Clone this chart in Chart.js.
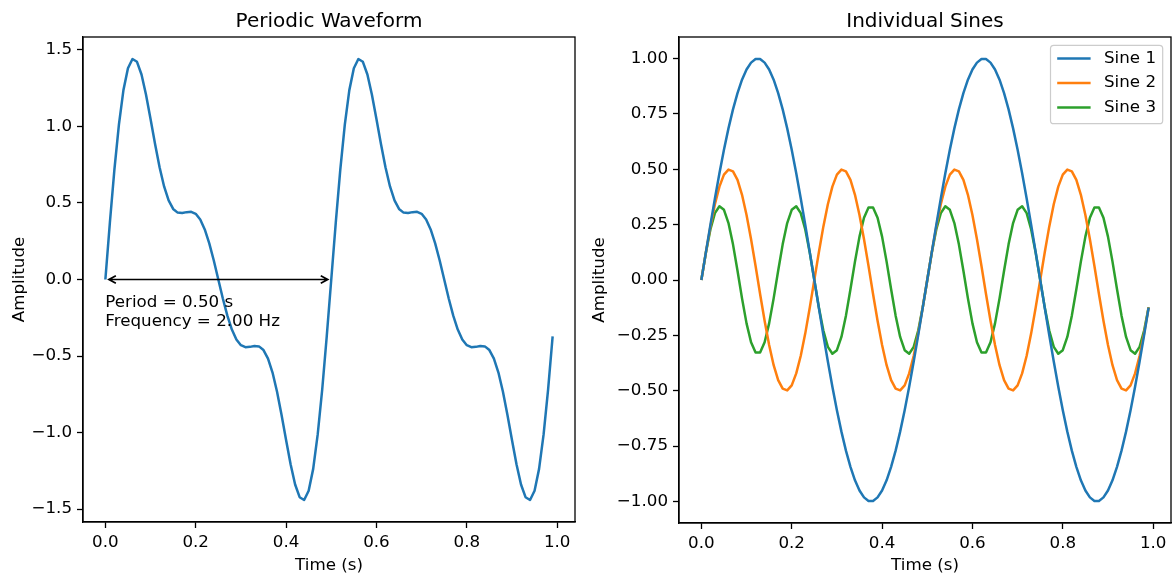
<!DOCTYPE html>
<html>
<head>
<meta charset="utf-8">
<title>Periodic Waveform</title>
<script src="https://cdn.jsdelivr.net/npm/chart.js@4.4.0/dist/chart.umd.min.js"></script>
<style>
  body { margin: 0; background: #fff; }
  #wrap { position: relative; width: 1172px; height: 576px; }
  canvas { position: absolute; top: 0; }
  #waveChart { left: 0; }
  #sineChart { left: 586px; }
</style>
</head>
<body>
<div id="wrap">
  <canvas id="waveChart" width="586" height="576"></canvas>
  <canvas id="sineChart" width="586" height="576"></canvas>
</div>
<script>
// Sample times (s)
const timeValues = [
  0.00, 0.01, 0.02, 0.03, 0.04, 0.05, 0.06, 0.07, 0.08, 0.09,
  0.10, 0.11, 0.12, 0.13, 0.14, 0.15, 0.16, 0.17, 0.18, 0.19,
  0.20, 0.21, 0.22, 0.23, 0.24, 0.25, 0.26, 0.27, 0.28, 0.29,
  0.30, 0.31, 0.32, 0.33, 0.34, 0.35, 0.36, 0.37, 0.38, 0.39,
  0.40, 0.41, 0.42, 0.43, 0.44, 0.45, 0.46, 0.47, 0.48, 0.49,
  0.50, 0.51, 0.52, 0.53, 0.54, 0.55, 0.56, 0.57, 0.58, 0.59,
  0.60, 0.61, 0.62, 0.63, 0.64, 0.65, 0.66, 0.67, 0.68, 0.69,
  0.70, 0.71, 0.72, 0.73, 0.74, 0.75, 0.76, 0.77, 0.78, 0.79,
  0.80, 0.81, 0.82, 0.83, 0.84, 0.85, 0.86, 0.87, 0.88, 0.89,
  0.90, 0.91, 0.92, 0.93, 0.94, 0.95, 0.96, 0.97, 0.98, 0.99
];

// Combined waveform
const waveform = [
  0, 0.372, 0.718, 1.012, 1.237, 1.380, 1.440, 1.422, 1.339, 1.207,
  1.049, 0.885, 0.733, 0.608, 0.517, 0.461, 0.437, 0.434, 0.440, 0.442,
  0.429, 0.392, 0.327, 0.236, 0.124, 0, -0.124, -0.236, -0.327, -0.392,
  -0.429, -0.442, -0.440, -0.434, -0.437, -0.461, -0.517, -0.608, -0.733, -0.885,
  -1.049, -1.207, -1.339, -1.422, -1.440, -1.380, -1.237, -1.012, -0.718, -0.372,
  0, 0.372, 0.718, 1.012, 1.237, 1.380, 1.440, 1.422, 1.339, 1.207,
  1.049, 0.885, 0.733, 0.608, 0.517, 0.461, 0.437, 0.434, 0.440, 0.442,
  0.429, 0.392, 0.327, 0.236, 0.124, 0, -0.124, -0.236, -0.327, -0.392,
  -0.429, -0.442, -0.440, -0.434, -0.437, -0.461, -0.517, -0.608, -0.733, -0.885,
  -1.049, -1.207, -1.339, -1.422, -1.440, -1.380, -1.237, -1.012, -0.718, -0.372
];

// Individual components
const sine1 = [
  0, 0.125, 0.249, 0.368, 0.482, 0.588, 0.685, 0.771, 0.844, 0.905,
  0.951, 0.982, 0.998, 0.998, 0.982, 0.951, 0.905, 0.844, 0.771, 0.685,
  0.588, 0.482, 0.368, 0.249, 0.125, 0, -0.125, -0.249, -0.368, -0.482,
  -0.588, -0.685, -0.771, -0.844, -0.905, -0.951, -0.982, -0.998, -0.998, -0.982,
  -0.951, -0.905, -0.844, -0.771, -0.685, -0.588, -0.482, -0.368, -0.249, -0.125,
  0, 0.125, 0.249, 0.368, 0.482, 0.588, 0.685, 0.771, 0.844, 0.905,
  0.951, 0.982, 0.998, 0.998, 0.982, 0.951, 0.905, 0.844, 0.771, 0.685,
  0.588, 0.482, 0.368, 0.249, 0.125, 0, -0.125, -0.249, -0.368, -0.482,
  -0.588, -0.685, -0.771, -0.844, -0.905, -0.951, -0.982, -0.998, -0.998, -0.982,
  -0.951, -0.905, -0.844, -0.771, -0.685, -0.588, -0.482, -0.368, -0.249, -0.125
];

const sine2 = [
  0, 0.124, 0.241, 0.342, 0.422, 0.476, 0.499, 0.491, 0.452, 0.385,
  0.294, 0.184, 0.063, -0.063, -0.184, -0.294, -0.385, -0.452, -0.491, -0.499,
  -0.476, -0.422, -0.342, -0.241, -0.124, 0, 0.124, 0.241, 0.342, 0.422,
  0.476, 0.499, 0.491, 0.452, 0.385, 0.294, 0.184, 0.063, -0.063, -0.184,
  -0.294, -0.385, -0.452, -0.491, -0.499, -0.476, -0.422, -0.342, -0.241, -0.124,
  0, 0.124, 0.241, 0.342, 0.422, 0.476, 0.499, 0.491, 0.452, 0.385,
  0.294, 0.184, 0.063, -0.063, -0.184, -0.294, -0.385, -0.452, -0.491, -0.499,
  -0.476, -0.422, -0.342, -0.241, -0.124, 0, 0.124, 0.241, 0.342, 0.422,
  0.476, 0.499, 0.491, 0.452, 0.385, 0.294, 0.184, 0.063, -0.063, -0.184,
  -0.294, -0.385, -0.452, -0.491, -0.499, -0.476, -0.422, -0.342, -0.241, -0.124
];

const sine3 = [
  0, 0.123, 0.228, 0.302, 0.333, 0.317, 0.257, 0.161, 0.042, -0.083,
  -0.196, -0.281, -0.327, -0.327, -0.281, -0.196, -0.083, 0.042, 0.161, 0.257,
  0.317, 0.333, 0.302, 0.228, 0.123, 0, -0.123, -0.228, -0.302, -0.333,
  -0.317, -0.257, -0.161, -0.042, 0.083, 0.196, 0.281, 0.327, 0.327, 0.281,
  0.196, 0.083, -0.042, -0.161, -0.257, -0.317, -0.333, -0.302, -0.228, -0.123,
  0, 0.123, 0.228, 0.302, 0.333, 0.317, 0.257, 0.161, 0.042, -0.083,
  -0.196, -0.281, -0.327, -0.327, -0.281, -0.196, -0.083, 0.042, 0.161, 0.257,
  0.317, 0.333, 0.302, 0.228, 0.123, 0, -0.123, -0.228, -0.302, -0.333,
  -0.317, -0.257, -0.161, -0.042, 0.083, 0.196, 0.281, 0.327, 0.327, 0.281,
  0.196, 0.083, -0.042, -0.161, -0.257, -0.317, -0.333, -0.302, -0.228, -0.123
];

const sineLabels = ['Sine 1', 'Sine 2', 'Sine 3'];
const sineColors = ['#1f77b4', '#ff7f0e', '#2ca02c'];

// Tick positions
const timeTicks = [0, 0.2, 0.4, 0.6, 0.8, 1.0];
const waveTicks = [-1.5, -1.0, -0.5, 0, 0.5, 1.0, 1.5];
const sineTicks = [-1, -0.75, -0.5, -0.25, 0, 0.25, 0.5, 0.75, 1];

const period = 0.5;      // s
const frequency = 2.0;   // Hz

const FONT = "'DejaVu Sans', sans-serif";

function fmt(v, digits) {
  return Number(v).toFixed(digits).replace('-', '\u2212');
}

function toPoints(values) {
  return timeValues.map((t, i) => ({ x: t, y: values[i] }));
}

function makeAxis(opts) {
  return {
    type: 'linear',
    min: opts.min,
    max: opts.max,
    afterBuildTicks: function(scale) {
      scale.ticks = opts.ticks.map(v => ({ value: v }));
    },
    afterFit: function(scale) {
      if (opts.horizontal) scale.height = opts.size;
      else scale.width = opts.size;
    },
    grid: { display: true, drawOnChartArea: false, drawTicks: true, tickLength: 6, tickWidth: 1.3, color: '#000' },
    border: { display: true, color: '#000', width: 1.3 },
    ticks: {
      color: '#000',
      font: { family: FONT, size: 16.7 },
      padding: 5,
      maxRotation: 0,
      autoSkip: false,
      callback: v => fmt(v, opts.digits)
    },
    title: {
      display: true,
      text: opts.title,
      color: '#000',
      font: { family: FONT, size: 16.7 },
      padding: { top: opts.titlePad, bottom: 0 }
    }
  };
}

// Axes box, panel title
const framePlugin = {
  id: 'frame',
  afterDraw(chart, args, options) {
    const { ctx, chartArea: a } = chart;
    ctx.save();
    ctx.strokeStyle = '#000';
    ctx.lineWidth = 1.3;
    ctx.strokeRect(a.left, a.top, a.right - a.left, a.bottom - a.top);
    ctx.fillStyle = '#000';
    ctx.font = '20px ' + FONT;
    ctx.textAlign = 'center';
    ctx.textBaseline = 'alphabetic';
    ctx.fillText(options.text, (a.left + a.right) / 2, 26.5);
    ctx.restore();
  }
};

// Double arrow over one period, with period / frequency text
const periodPlugin = {
  id: 'periodNote',
  afterDatasetsDraw(chart) {
    const { ctx } = chart;
    const xs = chart.scales.x, ys = chart.scales.y;
    const y = ys.getPixelForValue(0);
    const x0 = xs.getPixelForValue(0) + 3.5;
    const x1 = xs.getPixelForValue(period) - 3.5;
    const hl = 7, hw = 3.8;
    ctx.save();
    ctx.strokeStyle = '#000';
    ctx.lineWidth = 1.7;
    ctx.beginPath();
    ctx.moveTo(x0, y);
    ctx.lineTo(x1, y);
    ctx.moveTo(x0 + hl, y - hw);
    ctx.lineTo(x0, y);
    ctx.lineTo(x0 + hl, y + hw);
    ctx.moveTo(x1 - hl, y - hw);
    ctx.lineTo(x1, y);
    ctx.lineTo(x1 - hl, y + hw);
    ctx.stroke();

    ctx.fillStyle = '#000';
    ctx.font = '16.7px ' + FONT;
    ctx.textAlign = 'left';
    ctx.textBaseline = 'alphabetic';
    const tx = xs.getPixelForValue(0);
    const ty = ys.getPixelForValue(-0.18);
    ctx.fillText('Period = ' + period.toFixed(2) + ' s', tx, ty);
    ctx.fillText('Frequency = ' + frequency.toFixed(2) + ' Hz', tx, ty + 18.5);
    ctx.restore();
  }
};

// Legend box in the upper right corner of the plot area
const cornerLegend = {
  id: 'cornerLegend',
  afterDatasetsDraw(chart) {
    const { ctx, chartArea: a } = chart;
    const sets = chart.data.datasets;
    ctx.save();
    ctx.font = '16.7px ' + FONT;
    const textW = Math.max(...sets.map(d => ctx.measureText(d.label).width));
    const pad = 6.7, handle = 33.4, gap = 13.4, rowH = 24.4;
    const w = pad + handle + gap + textW + pad;
    const h = rowH * sets.length + 5.2;
    const right = a.right - 8.3, top = a.top + 8.3;
    const left = right - w;

    ctx.beginPath();
    ctx.roundRect(left, top, w, h, 3.3);
    ctx.fillStyle = 'rgba(255,255,255,0.8)';
    ctx.fill();
    ctx.strokeStyle = '#cccccc';
    ctx.lineWidth = 1.2;
    ctx.stroke();

    sets.forEach((d, i) => {
      const cy = top + 13.3 + i * rowH;
      ctx.strokeStyle = d.borderColor;
      ctx.lineWidth = 2.5;
      ctx.beginPath();
      ctx.moveTo(left + pad, cy);
      ctx.lineTo(left + pad + handle, cy);
      ctx.stroke();
      ctx.fillStyle = '#000';
      ctx.textAlign = 'left';
      ctx.textBaseline = 'middle';
      ctx.fillText(d.label, left + pad + handle + gap, cy);
    });
    ctx.restore();
  }
};

function lineSet(label, values, color) {
  return {
    label: label,
    data: toPoints(values),
    borderColor: color,
    backgroundColor: color,
    borderWidth: 2.5,
    pointRadius: 0,
    tension: 0,
    fill: false,
    borderJoinStyle: 'round'
  };
}

const baseOptions = {
  responsive: false,
  animation: false,
  events: [],
  plugins: { legend: { display: false }, tooltip: { enabled: false } }
};

new Chart(document.getElementById('waveChart'), {
  type: 'line',
  data: { datasets: [lineSet('Waveform', waveform, '#1f77b4')] },
  options: Object.assign({}, baseOptions, {
    layout: { padding: { left: 0, top: 37, right: 11, bottom: 0 } },
    plugins: Object.assign({}, baseOptions.plugins, { frame: { text: 'Periodic Waveform' } }),
    scales: {
      x: makeAxis({ min: -0.0495, max: 1.0395, ticks: timeTicks, digits: 1, title: 'Time (s)', horizontal: true, size: 54, titlePad: 3 }),
      y: makeAxis({ min: -1.584, max: 1.584, ticks: waveTicks, digits: 1, title: 'Amplitude', horizontal: false, size: 83, titlePad: 9.4 })
    }
  }),
  plugins: [framePlugin, periodPlugin]
});

new Chart(document.getElementById('sineChart'), {
  type: 'line',
  data: {
    datasets: [
      lineSet(sineLabels[0], sine1, sineColors[0]),
      lineSet(sineLabels[1], sine2, sineColors[1]),
      lineSet(sineLabels[2], sine3, sineColors[2])
    ]
  },
  options: Object.assign({}, baseOptions, {
    layout: { padding: { left: 0, top: 37, right: 1, bottom: 0 } },
    plugins: Object.assign({}, baseOptions.plugins, { frame: { text: 'Individual Sines' } }),
    scales: {
      x: makeAxis({ min: -0.0495, max: 1.0395, ticks: timeTicks, digits: 1, title: 'Time (s)', horizontal: true, size: 53, titlePad: 3 }),
      y: makeAxis({ min: -1.0978, max: 1.0978, ticks: sineTicks, digits: 2, title: 'Amplitude', horizontal: false, size: 93, titlePad: 3.4 })
    }
  }),
  plugins: [framePlugin, cornerLegend]
});
</script>
</body>
</html>
